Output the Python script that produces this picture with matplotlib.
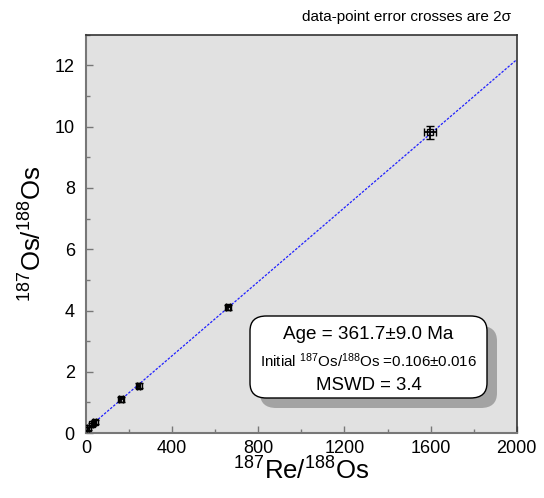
import matplotlib
matplotlib.use("Agg")
import matplotlib.pyplot as plt
import numpy as np
from matplotlib.patches import FancyBboxPatch
from matplotlib.ticker import MultipleLocator

plt.rcParams['font.family'] = ['Liberation Sans', 'DejaVu Sans']
plt.rcParams['mathtext.fontset'] = 'custom'
plt.rcParams['mathtext.rm'] = 'Liberation Sans'
plt.rcParams['mathtext.it'] = 'Liberation Sans:italic'

# Data (187Re/188Os, 187Os/188Os, 2-sigma errors)
re_os = [10, 28, 40, 162, 244, 660, 1598]
os_os = [0.15, 0.28, 0.36, 1.10, 1.55, 4.10, 9.82]
x_err = [4, 5, 5, 8, 8, 10, 28]
y_err = [0.06, 0.06, 0.06, 0.08, 0.09, 0.09, 0.22]

intercept = 0.106
slope = 0.006044  # from age 361.7 Ma

fig = plt.figure(figsize=(5.44, 4.98), dpi=100)
ax = fig.add_axes([0.158, 0.1305, 0.792, 0.7995])
ax.set_facecolor('#e1e1e1')

xl = np.array([0, 2000])
ax.plot(xl, intercept + slope * xl, color='#1f1fff', lw=0.9, dashes=(2, 1.2), zorder=2)

ax.errorbar(re_os, os_os, xerr=x_err, yerr=y_err, fmt='s', ms=4, mfc='none',
            mec='black', mew=1.0, ecolor='black', elinewidth=1.3, capsize=3,
            capthick=1.3, zorder=3)

ax.set_xlim(0, 2000)
ax.set_ylim(0, 13)
ax.xaxis.set_major_locator(MultipleLocator(400))
ax.xaxis.set_minor_locator(MultipleLocator(200))
ax.yaxis.set_major_locator(MultipleLocator(2))
ax.yaxis.set_minor_locator(MultipleLocator(1))
ax.tick_params(which='both', direction='in', colors='#777777', labelcolor='black',
               labelsize=13, top=False, right=False)
ax.tick_params(which='major', length=5, width=1)
ax.tick_params(which='minor', length=3, width=1)
ax.tick_params(axis='x', pad=5)
ax.tick_params(axis='y', pad=8)
for s in ['left', 'bottom']:
    ax.spines[s].set_color('#777777')
    ax.spines[s].set_linewidth(1.5)
for s in ['top', 'right']:
    ax.spines[s].set_color('#333333')
    ax.spines[s].set_linewidth(1.2)

ax.set_xlabel(r'$^{187}$Re/$^{188}$Os', fontsize=18.5, labelpad=0)
ax.set_ylabel(r'$^{187}$Os/$^{188}$Os', fontsize=18.5, labelpad=6)

fig.text(0.94, 0.965, 'data-point error crosses are 2σ', ha='right', va='center', fontsize=11)

W, H = 544.0, 498.0
def fx(px): return px / W
def fy(py): return (H - py) / H

x0, x1, yt, yb = 250, 487, 316, 398
off = 10
shadow = FancyBboxPatch((fx(x0 + off), fy(yb + off)), fx(x1) - fx(x0), fy(yt) - fy(yb),
                        boxstyle='round,pad=0,rounding_size=0.03', transform=fig.transFigure,
                        facecolor='#a3a3a3', edgecolor='none', zorder=5)
box = FancyBboxPatch((fx(x0), fy(yb)), fx(x1) - fx(x0), fy(yt) - fy(yb),
                     boxstyle='round,pad=0,rounding_size=0.03', transform=fig.transFigure,
                     facecolor='white', edgecolor='black', lw=1.0, zorder=6)
fig.patches.extend([shadow, box])
cx = fx((x0 + x1) / 2)
fig.text(cx, fy(334), 'Age = 361.7±9.0 Ma', ha='center', va='center', fontsize=13.6, zorder=7)
fig.text(cx, fy(361), r'Initial $^{187}$Os/$^{188}$Os =0.106±0.016', ha='center', va='center',
         fontsize=10.9, zorder=7)
fig.text(cx, fy(385), 'MSWD = 3.4', ha='center', va='center', fontsize=13.4, zorder=7)

fig.savefig('out.png', dpi=100)
